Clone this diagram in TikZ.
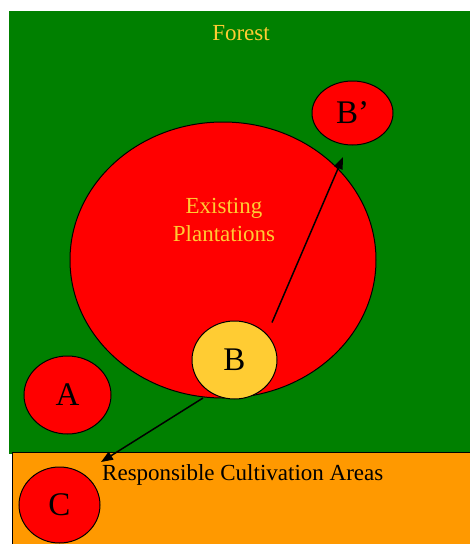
\documentclass[tikz,border=0pt]{standalone}
\usepackage{fontspec}
\setmainfont{Liberation Serif}
\usetikzlibrary{shapes.geometric,arrows.meta}
\definecolor{forestgreen}{HTML}{008000}
\definecolor{plantred}{HTML}{FF0000}
\definecolor{areaorange}{HTML}{FF9900}
\definecolor{goldtext}{HTML}{FFCC33}
\tikzset{
  zone/.style={ellipse, draw=black, line width=1pt, inner sep=0pt, fill=plantred,
    font=\fontsize{33}{33}\selectfont},
  label22/.style={inner sep=0pt, font=\fontsize{23}{28}\selectfont},
  move/.style={line width=1.5pt, -{Triangle[length=12pt,width=9pt]}},
}
\begin{document}
\begin{tikzpicture}[x=1pt,y=-1pt]
  \useasboundingbox (0,0) rectangle (470,544);
  \clip (0,0) rectangle (470,544);
  % forest and cultivation bands
  \fill[forestgreen] (9,11) rectangle (480,453.5);
  \filldraw[fill=areaorange, draw=black, line width=1.2pt] (12.5,452.5) rectangle (480,560);
  % plantation areas
  \node[zone, minimum width=306pt, minimum height=276pt] (EP) at (223,260) {};
  \node[label22, text=goldtext, align=center, anchor=base] (EPt) at (224,241) {Existing\\Plantations};
  \node[zone, minimum width=81pt, minimum height=64pt] (Bp) at (352.5,113) {B’};
  \node[zone, fill=goldtext, minimum width=85pt, minimum height=78pt] (B) at (234.5,360) {B};
  \node[zone, minimum width=87pt, minimum height=78pt] (A) at (67.5,395) {A};
  \node[zone, minimum width=81pt, minimum height=76pt] (C) at (59.5,505) {C};
  % labels
  \node[label22, text=goldtext, anchor=base] (forest) at (241,40) {Forest};
  \node[label22, anchor=base west] (rca) at (102,480) {Responsible Cultivation Areas};
  % movements
  \coordinate (upstart) at (272,322.5);
  \coordinate (uptip) at (343,157);
  \coordinate (downstart) at (203,398);
  \coordinate (downtip) at (101,462);
  \draw[move] (upstart) -- (uptip);
  \draw[move] (downstart) -- (downtip);
\end{tikzpicture}
\end{document}
